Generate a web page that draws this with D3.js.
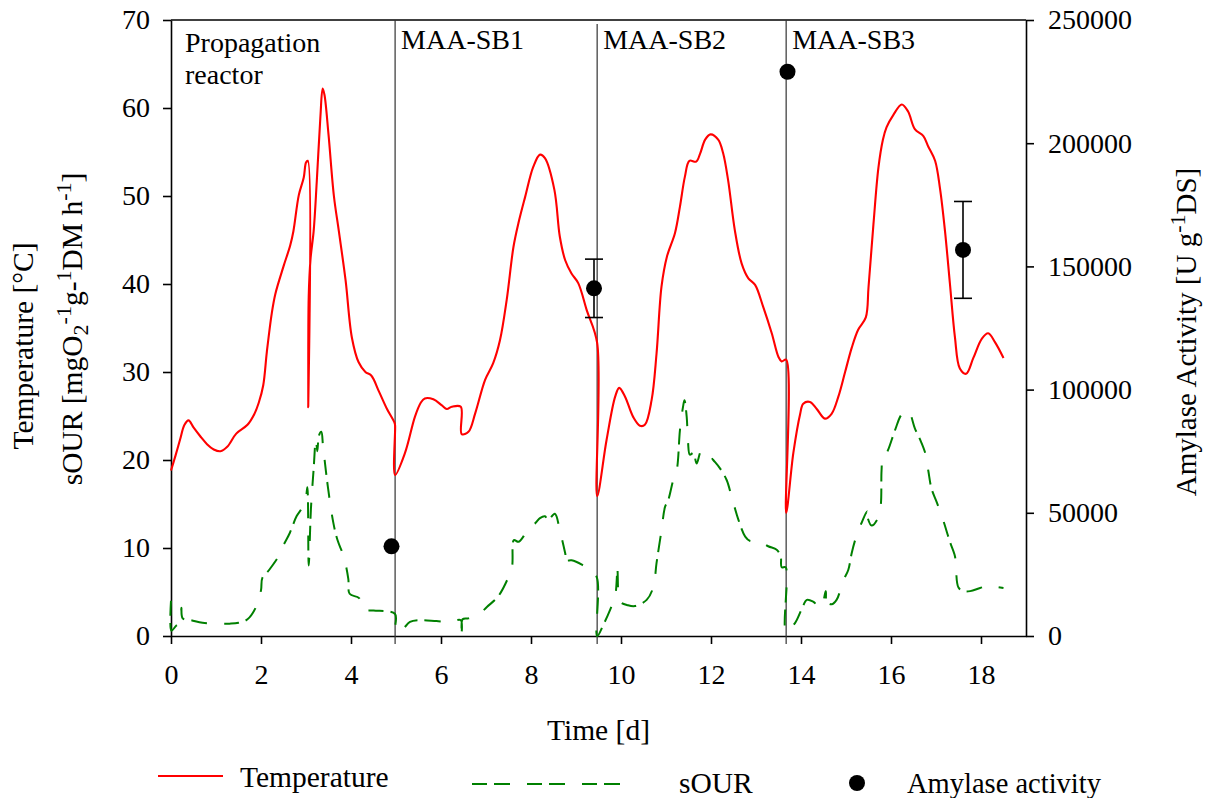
<!DOCTYPE html>
<html>
<head>
<meta charset="utf-8">
<script src="https://cdn.jsdelivr.net/npm/d3@7"></script>
<style>
  html, body { margin: 0; padding: 0; background: #ffffff; }
  svg { display: block; }
  text { font-family: "Liberation Serif", "Times New Roman", Times, serif; fill: #000; }
</style>
</head>
<body>
<svg id="chart" width="1210" height="798"></svg>
<script>
// ---- data ---------------------------------------------------------------
// Temperature [°C] over time [d]
const tempTime = [
  0, 0.1, 0.2, 0.3, 0.39, 0.5, 0.65, 0.8, 0.95, 1.1, 1.25, 1.45, 1.7, 1.85, 1.95,
  2.05, 2.13, 2.24, 2.32, 2.5, 2.65, 2.72, 2.84, 2.95, 3.0, 3.04, 3.05, 3.06, 3.1,
  3.17, 3.24, 3.32, 3.37, 3.41, 3.5, 3.62, 3.73, 3.88, 4.02, 4.17, 4.32, 4.45, 4.62,
  4.8, 4.97, 4.98,
  4.98, 5.20, 5.42, 5.55, 5.64, 5.83, 6.02, 6.13, 6.24, 6.44, 6.46, 6.61, 6.76, 6.98,
  7.16, 7.31, 7.46, 7.61, 7.72, 7.87, 8.05, 8.2, 8.31, 8.52, 8.64, 8.76, 8.90, 9.05,
  9.24, 9.47,
  9.47, 9.68, 9.87, 9.96, 10.09, 10.27, 10.42, 10.53, 10.68, 10.79, 10.90, 11.02,
  11.2, 11.31, 11.42, 11.52, 11.67, 11.76, 11.87, 11.99, 12.16, 12.27, 12.38, 12.53,
  12.68, 12.83, 12.98, 13.16, 13.35, 13.5, 13.57, 13.67,
  13.67, 13.83, 13.98, 14.05, 14.2, 14.35, 14.53, 14.68, 14.83, 14.98, 15.13, 15.27,
  15.44, 15.5, 15.61, 15.72, 15.82, 15.9, 16.05, 16.24, 16.38, 16.53, 16.72, 16.83,
  16.98, 17.09, 17.2, 17.31, 17.42, 17.53, 17.67, 17.83, 18.02, 18.16, 18.31, 18.5
];
const tempValue = [
  18.8, 20.5, 22.3, 24.0, 24.5, 23.7, 22.7, 21.8, 21.2, 21.0, 21.5, 23.0, 24.0, 25.2, 26.5,
  28.5, 32.3, 36.7, 38.9, 42.0, 44.4, 46.0, 50.1, 52.1, 53.8, 54.0, 26.0, 38.5, 42.8,
  46.0, 51.7, 59.0, 62.2, 61.5, 57.0, 50.0, 46.0, 40.4, 33.9, 31.1, 30.0, 29.6, 27.8,
  25.8, 24.2, 23.9,
  18.3, 20.8, 24.9, 26.5, 27.0, 26.9, 26.2, 25.8, 26.05, 26.05, 22.95, 23.2, 25.3, 29.1,
  31.0, 33.6, 38.2, 44.2, 46.9, 49.9, 53.3, 54.7, 54.3, 50.7, 45.4, 42.7, 41.2, 40.1,
  37.0, 33.3,
  15.9, 22.3, 27.2, 28.2, 27.2, 24.9, 23.9, 24.0, 26.8, 32.1, 39.7, 43.1,
  45.8, 48.8, 52.2, 54.0, 53.9, 54.85, 56.4, 57.0, 56.4, 54.85, 51.8, 46.1,
  42.35, 40.65, 39.9, 37.4, 34.4, 31.7, 31.2, 31.4,
  14.0, 20.8, 25.2, 26.4, 26.6, 25.8, 24.7, 25.25, 27.2, 30.0, 32.8, 34.8,
  36.2, 39.6, 46.8, 53.2, 56.4, 57.8, 59.2, 60.4, 59.6, 57.6, 56.8, 55.6,
  54.0, 50.8, 46.0, 40.0, 34.0, 30.4, 29.8, 31.6, 33.8, 34.4, 33.4, 31.6
];

// sOUR [mgO2 g-1 DM h-1] over time [d]
const sourTime = [
  0, 0.01, 0.12, 0.21, 0.23, 0.26, 0.45, 0.7, 1.0, 1.3, 1.5, 1.7, 1.88, 2.0, 2.03,
  2.18, 2.42, 2.47, 2.64, 2.79, 2.92, 2.99, 3.03, 3.06, 3.11, 3.17, 3.22, 3.25, 3.29,
  3.34, 3.38, 3.49, 3.61, 3.7, 3.84, 3.94, 3.97, 4.18, 4.27, 4.5, 4.98,
  4.99, 5.13, 5.31, 5.5, 5.9, 6.2, 6.44, 6.46, 6.48, 6.61, 6.83, 7.02, 7.27, 7.5,
  7.58, 7.62, 7.72, 7.83, 7.94, 8.09, 8.2, 8.31, 8.38, 8.53, 8.64, 8.76, 8.79, 8.9,
  9.13, 9.29, 9.46,
  9.47, 9.61, 9.76, 9.87, 9.92, 9.94, 9.98, 10.15, 10.31, 10.57, 10.72, 10.79, 10.9,
  10.98, 11.05, 11.16, 11.24, 11.31, 11.38, 11.41, 11.46, 11.49, 11.53, 11.61, 11.68,
  11.79, 11.9, 12.05, 12.2, 12.35, 12.46, 12.61, 12.76, 12.87, 13.02, 13.27, 13.46,
  13.55, 13.57, 13.66,
  13.67, 13.87, 14.02, 14.13, 14.27, 14.44, 14.55, 14.57, 14.68, 14.79, 14.94, 15.05,
  15.13, 15.24, 15.35, 15.47, 15.49, 15.57, 15.7, 15.77, 15.79, 15.82, 15.86, 15.94,
  16.09, 16.24, 16.38, 16.53, 16.64, 16.76, 16.83, 16.9, 17.02, 17.16, 17.31, 17.42,
  17.44, 17.5, 17.61, 17.76, 17.98, 18.16, 18.31, 18.5
];
const sourValue = [
  4.0, 0.6, 1.2, 1.5, 3.2, 2.0, 1.8, 1.5, 1.4, 1.4, 1.5, 1.9, 3.2, 5.2, 6.6,
  7.5, 9.3, 10.0, 11.7, 13.6, 14.6, 15.4, 16.9, 8.0, 14.5, 19.0, 22.5, 21.0, 22.8,
  23.2, 21.5, 16.8, 12.8, 10.9, 9.0, 6.5, 4.8, 4.3, 3.0, 2.9, 2.5,
  0.6, 0.7, 1.6, 1.8, 1.7, 1.6, 1.8, 0.3, 1.9, 2.0, 2.4, 3.3, 4.5, 6.7,
  7.9, 10.9, 10.7, 11.3, 12.4, 12.8, 13.4, 13.6, 13.2, 13.9, 12.0, 9.4, 8.6, 8.6,
  8.1, 7.5, 6.7,
  0.0, 1.3, 3.0, 4.5, 7.5, 5.0, 3.9, 3.5, 3.4, 4.1, 5.6, 8.3, 12.0,
  14.7, 15.45, 17.7, 18.9, 23.4, 26.1, 26.8, 24.9, 22.0, 20.6, 20.8, 19.6,
  21.1, 20.9, 20.0, 19.05, 17.7, 15.8, 13.2, 11.3, 10.8, 10.9, 10.2, 9.8,
  9.0, 7.8, 7.8,
  0.5, 1.5, 3.1, 4.1, 3.9, 3.2, 5.1, 3.9, 3.6, 4.1, 6.3, 7.5,
  9.5, 11.5, 12.9, 14.15, 13.3, 12.55, 13.3, 14.75, 18.8, 20.4, 20.4, 21.2,
  23.4, 25.2, 25.6, 23.6, 22.4, 20.8, 18.75, 16.75, 15.15, 13.15, 10.7, 9.1,
  8.2, 5.5, 5.1, 5.1, 5.45, 5.7, 5.6, 5.45
];

// Amylase activity [U g-1 DS], mean and standard deviation
const amylaseTime  = [4.90, 9.40, 13.70, 17.60];
const amylaseValue = [36400, 141100, 229000, 156700];
const amylaseError = [0, 11850, 0, 19650];

// Reactor phases: start day and label lines
const phaseStart  = [0, 4.98, 9.47, 13.67];
const phaseLabels = [["Propagation", "reactor"], ["MAA-SB1"], ["MAA-SB2"], ["MAA-SB3"]];

// Axis ticks
const timeTicks    = [0, 2, 4, 6, 8, 10, 12, 14, 16, 18];
const leftTicks    = [0, 10, 20, 30, 40, 50, 60, 70];
const amylaseTicks = [0, 50000, 100000, 150000, 200000, 250000];

// ---- layout -------------------------------------------------------------
const svg = d3.select("#chart");
const plot = { left: 171, right: 1026, top: 20, bottom: 636 };
const FONT = 28;        // tick labels and phase labels
const TITLE = 29.5;     // axis titles and legend
const SUP = 22;         // sub/superscripts in titles
const RED = "#ff0000", GREEN = "#008000";
const DASH = "15,7,16,17";

const x  = d3.scaleLinear().domain([0, 19]).range([plot.left, plot.right]);
const yL = d3.scaleLinear().domain([0, 70]).range([plot.bottom, plot.top]);
const yR = d3.scaleLinear().domain([0, 250000]).range([plot.bottom, plot.top]);

function styleAxis(g) {
  g.selectAll("path.domain").attr("stroke", "#000").attr("stroke-width", 1.6);
  g.selectAll(".tick line").attr("stroke", "#000").attr("stroke-width", 1.6);
  g.selectAll(".tick text").attr("font-size", FONT).attr("fill", "#000");
}

// axes
svg.append("g")
  .attr("transform", `translate(0,${plot.bottom})`)
  .call(d3.axisBottom(x).tickValues(timeTicks).tickFormat(d3.format("d"))
    .tickSizeInner(8).tickSizeOuter(0).tickPadding(20))
  .call(styleAxis);

svg.append("g")
  .attr("transform", `translate(${plot.left},0)`)
  .call(d3.axisLeft(yL).tickValues(leftTicks).tickFormat(d3.format("d"))
    .tickSizeInner(8).tickSizeOuter(0).tickPadding(13))
  .call(styleAxis);

svg.append("g")
  .attr("transform", `translate(${plot.right},0)`)
  .call(d3.axisRight(yR).tickValues(amylaseTicks).tickFormat(d3.format("d"))
    .tickSizeInner(8).tickSizeOuter(0).tickPadding(14))
  .call(styleAxis);

// top frame line
svg.append("line")
  .attr("x1", plot.left).attr("x2", plot.right)
  .attr("y1", plot.top).attr("y2", plot.top)
  .attr("stroke", "#000").attr("stroke-width", 1.6);

// phase separators
svg.append("g").selectAll("line")
  .data(phaseStart.slice(1))
  .join("line")
  .attr("x1", d => x(d)).attr("x2", d => x(d))
  .attr("y1", (d, i) => i === 1 ? plot.top + 4 : plot.top)
  .attr("y2", plot.bottom + 8)
  .attr("stroke", "#333").attr("stroke-width", 1.2);

// phase labels
const labelG = svg.append("g");
phaseLabels.forEach((lines, i) => {
  const lx = x(phaseStart[i]) + (i === 0 ? 14 : 6);
  const t = labelG.append("text")
    .attr("x", lx)
    .attr("y", i === 0 ? 52 : 49)
    .attr("font-size", FONT);
  lines.forEach((s, j) => {
    t.append("tspan").attr("x", lx).attr("dy", j === 0 ? 0 : 31.5).text(s);
  });
});

// series lines
const tempData = tempTime.map((t, i) => [t, tempValue[i]]);
const sourData = sourTime.map((t, i) => [t, sourValue[i]]);
const smooth = d3.line()
  .x(d => x(d[0])).y(d => yL(d[1]))
  .curve(d3.curveCatmullRom.alpha(0.5));

svg.append("path")
  .datum(sourData)
  .attr("fill", "none")
  .attr("stroke", GREEN)
  .attr("stroke-width", 2)
  .attr("stroke-dasharray", DASH)
  .attr("d", smooth);

svg.append("path")
  .datum(tempData)
  .attr("fill", "none")
  .attr("stroke", RED)
  .attr("stroke-width", 2.1)
  .attr("stroke-linejoin", "round")
  .attr("d", smooth);

// amylase points with error bars
const amy = amylaseTime.map((t, i) => ({ t, v: amylaseValue[i], e: amylaseError[i] }));
const errG = svg.append("g").attr("stroke", "#000").attr("stroke-width", 1.6);
amy.filter(d => d.e > 0).forEach(d => {
  const cx = x(d.t);
  errG.append("line").attr("x1", cx).attr("x2", cx)
    .attr("y1", yR(d.v + d.e)).attr("y2", yR(d.v - d.e));
  [d.v + d.e, d.v - d.e].forEach(v => {
    errG.append("line").attr("x1", cx - 9).attr("x2", cx + 9)
      .attr("y1", yR(v)).attr("y2", yR(v));
  });
});
svg.append("g").selectAll("circle")
  .data(amy)
  .join("circle")
  .attr("cx", d => x(d.t))
  .attr("cy", d => yR(d.v))
  .attr("r", 8)
  .attr("fill", "#000");

// axis titles
svg.append("text")
  .attr("x", (plot.left + plot.right) / 2)
  .attr("y", 740)
  .attr("text-anchor", "middle")
  .attr("font-size", TITLE)
  .text("Time [d]");

svg.append("text")
  .attr("transform", "translate(33,346) rotate(-90)")
  .attr("text-anchor", "middle")
  .attr("font-size", TITLE)
  .text("Temperature [°C]");

const yt2 = svg.append("text")
  .attr("transform", "translate(82,329) rotate(-90)")
  .attr("text-anchor", "middle")
  .attr("font-size", TITLE);
yt2.append("tspan").text("sOUR [mgO");
yt2.append("tspan").attr("font-size", SUP).attr("dy", 6).text("2");
yt2.append("tspan").attr("font-size", SUP).attr("dy", -17).text("-1");
yt2.append("tspan").attr("dy", 11).text("g-");
yt2.append("tspan").attr("font-size", SUP).attr("dy", -11).text("1");
yt2.append("tspan").attr("dy", 11).text("DM h");
yt2.append("tspan").attr("font-size", SUP).attr("dy", -11).text("-1");
yt2.append("tspan").attr("dy", 11).text("]");

const yt3 = svg.append("text")
  .attr("transform", "translate(1196,332) rotate(-90)")
  .attr("text-anchor", "middle")
  .attr("font-size", 29);
yt3.append("tspan").text("Amylase Activity [U g");
yt3.append("tspan").attr("font-size", SUP).attr("dy", -11).text("-1");
yt3.append("tspan").attr("dy", 11).text("DS]");

// legend
const leg = svg.append("g");
leg.append("line").attr("x1", 158).attr("x2", 223).attr("y1", 776).attr("y2", 776)
  .attr("stroke", RED).attr("stroke-width", 2);
leg.append("text").attr("x", 240).attr("y", 787).attr("font-size", TITLE).text("Temperature");
leg.append("line").attr("x1", 472).attr("x2", 621).attr("y1", 784).attr("y2", 784)
  .attr("stroke", GREEN).attr("stroke-width", 2).attr("stroke-dasharray", DASH);
leg.append("text").attr("x", 679).attr("y", 793).attr("font-size", TITLE).text("sOUR");
leg.append("circle").attr("cx", 857).attr("cy", 783).attr("r", 8).attr("fill", "#000");
leg.append("text").attr("x", 907).attr("y", 793).attr("font-size", 28.5).text("Amylase activity");
</script>
</body>
</html>
